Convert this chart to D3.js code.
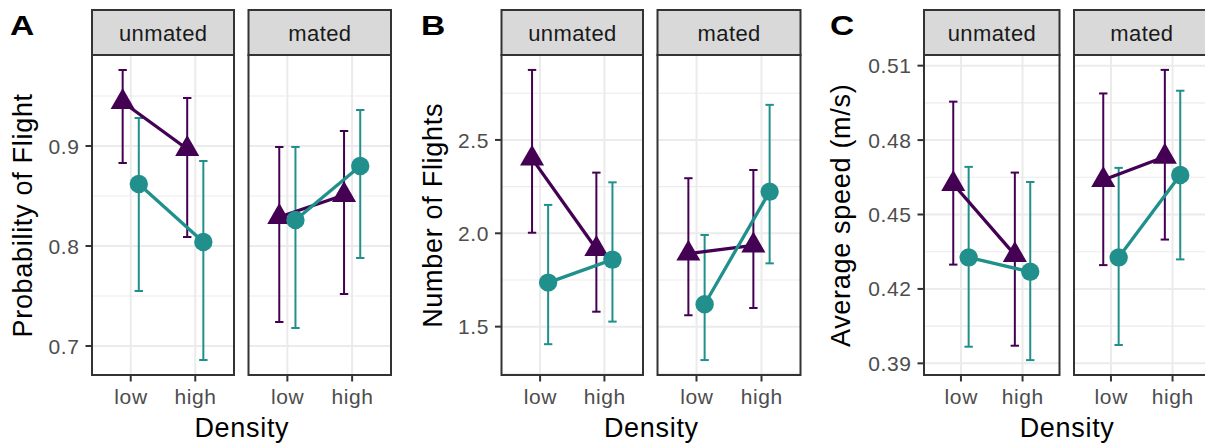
<!DOCTYPE html>
<html>
<head>
<meta charset="utf-8">
<script src="https://cdn.jsdelivr.net/npm/d3@7"></script>
<style>
  html, body { margin: 0; padding: 0; background: #fff; }
  svg { display: block; font-family: "Liberation Sans", Arial, Helvetica, sans-serif; }
</style>
</head>
<body>
<svg id="chart" width="1205" height="446"></svg>
<script>
// ---------------- DATA ----------------
const density = ["low", "high"];
const matingStatus = ["unmated", "mated"];
const groups = ["triangle", "circle"];
// order of values: unmated-low, unmated-high, mated-low, mated-high

// A: Probability of Flight
const flightProbMeanTri  = [0.944, 0.897, 0.829, 0.851];
const flightProbLowerTri = [0.883, 0.809, 0.724, 0.752];
const flightProbUpperTri = [0.976, 0.948, 0.899, 0.915];
const flightProbMeanCirc  = [0.862, 0.804, 0.826, 0.880];
const flightProbLowerCirc = [0.755, 0.686, 0.718, 0.788];
const flightProbUpperCirc = [0.928, 0.885, 0.899, 0.936];
const flightProbTicks = [0.7, 0.8, 0.9];
const flightProbMinor = [0.75, 0.85, 0.95];
const flightProbDomain = [0.671, 0.991];

// B: Number of Flights
const numFlightsMeanTri  = [2.400, 1.916, 1.891, 1.935];
const numFlightsLowerTri = [2.003, 1.580, 1.561, 1.600];
const numFlightsUpperTri = [2.875, 2.325, 2.295, 2.339];
const numFlightsMeanCirc  = [1.736, 1.859, 1.620, 2.223];
const numFlightsLowerCirc = [1.406, 1.527, 1.321, 1.839];
const numFlightsUpperCirc = [2.152, 2.273, 1.991, 2.688];
const numFlightsTicks = [1.5, 2.0, 2.5];
const numFlightsMinor = [1.25, 1.75, 2.25, 2.75];
const numFlightsDomain = [1.241, 2.955];

// C: Average speed (m/s)
const speedMeanTri  = [0.4623, 0.4337, 0.4639, 0.4733];
const speedLowerTri = [0.4298, 0.3971, 0.4296, 0.4399];
const speedUpperTri = [0.4955, 0.4669, 0.4988, 0.5083];
const speedMeanCirc  = [0.4327, 0.4269, 0.4327, 0.4659];
const speedLowerCirc = [0.3967, 0.3913, 0.3974, 0.4319];
const speedUpperCirc = [0.4692, 0.4631, 0.4688, 0.4999];
const speedTicks = [0.39, 0.42, 0.45, 0.48, 0.51];
const speedMinor = [0.405, 0.435, 0.465, 0.495];
const speedDomain = [0.3853, 0.5143];

const panelLetters = ["A", "B", "C"];
const yTitles = ["Probability of Flight", "Number of Flights", "Average speed (m/s)"];
const xTitle = "Density";

// ---------------- BUILD ----------------
function rows(meanT, lowT, upT, meanC, lowC, upC) {
  const out = [];
  matingStatus.forEach((m, mi) => density.forEach((d, di) => {
    const k = mi * 2 + di;
    out.push({mating: m, density: d, group: "triangle", mean: meanT[k], lo: lowT[k], hi: upT[k]});
    out.push({mating: m, density: d, group: "circle", mean: meanC[k], lo: lowC[k], hi: upC[k]});
  }));
  return out;
}

const charts = [
  { letter: panelLetters[0], title: yTitles[0], fmt: d3.format(".1f"),
    data: rows(flightProbMeanTri, flightProbLowerTri, flightProbUpperTri, flightProbMeanCirc, flightProbLowerCirc, flightProbUpperCirc),
    ticks: flightProbTicks, minor: flightProbMinor, domain: flightProbDomain,
    panels: [[92, 234], [248.5, 391]], letterX: 10, titleX: 31.5 },
  { letter: panelLetters[1], title: yTitles[1], fmt: d3.format(".1f"),
    data: rows(numFlightsMeanTri, numFlightsLowerTri, numFlightsUpperTri, numFlightsMeanCirc, numFlightsLowerCirc, numFlightsUpperCirc),
    ticks: numFlightsTicks, minor: numFlightsMinor, domain: numFlightsDomain,
    panels: [[501.5, 643], [657.5, 800.5]], letterX: 421, titleX: 441.5 },
  { letter: panelLetters[2], title: yTitles[2], fmt: d3.format(".2f"),
    data: rows(speedMeanTri, speedLowerTri, speedUpperTri, speedMeanCirc, speedLowerCirc, speedUpperCirc),
    ticks: speedTicks, minor: speedMinor, domain: speedDomain,
    panels: [[924, 1059.5], [1074, 1209.5]], letterX: 830, titleX: 849.5 }
];

const colors = { triangle: "#440154", circle: "#21908C" };
const stripTop = 10, panelTop = 55, panelBottom = 375;
const dark = "#333333", grid = "#EBEBEB", tickText = "#4D4D4D";
const tickFont = 21, tickLS = 0.6;
const titleFont = 27, titleLS = 0.7;
const stripFont = 22, stripLS = 0.4;

const svg = d3.select("#chart");

charts.forEach(ch => {
  const g = svg.append("g");
  const y = d3.scaleLinear().domain(ch.domain).range([panelBottom, panelTop]);

  ch.panels.forEach((px, pi) => {
    const mating = matingStatus[pi];
    // discrete scale with 0.6 expansion on each side
    const x = d3.scalePoint().domain(density).range([px[0], px[1]]).padding(0.6);
    const step = x.step();
    const xs = d => x(d);
    const dodge = { triangle: -0.125 * step, circle: 0.125 * step };

    const p = g.append("g");
    p.append("rect").attr("x", px[0]).attr("y", panelTop).attr("width", px[1] - px[0]).attr("height", panelBottom - panelTop).attr("fill", "#fff");
    p.selectAll(".minor").data(ch.minor).join("line")
      .attr("x1", px[0]).attr("x2", px[1]).attr("y1", d => y(d)).attr("y2", d => y(d))
      .attr("stroke", grid).attr("stroke-width", 1.1);
    p.selectAll(".majory").data(ch.ticks).join("line")
      .attr("x1", px[0]).attr("x2", px[1]).attr("y1", d => y(d)).attr("y2", d => y(d))
      .attr("stroke", grid).attr("stroke-width", 2);
    p.selectAll(".majorx").data(density).join("line")
      .attr("x1", d => xs(d)).attr("x2", d => xs(d)).attr("y1", panelTop).attr("y2", panelBottom)
      .attr("stroke", grid).attr("stroke-width", 2);

    const pd = ch.data.filter(r => r.mating === mating);
    const cx = r => xs(r.density) + dodge[r.group];

    const capW = 4.2;
    groups.forEach(gr => {
      const gd = pd.filter(r => r.group === gr);
      const eb = p.append("g").attr("stroke", colors[gr]).attr("stroke-width", 2).attr("fill", "none");
      eb.selectAll("line.v").data(gd).join("line")
        .attr("x1", cx).attr("x2", cx).attr("y1", r => y(r.lo)).attr("y2", r => y(r.hi));
      eb.selectAll("line.t").data(gd).join("line")
        .attr("x1", r => cx(r) - capW).attr("x2", r => cx(r) + capW).attr("y1", r => y(r.hi)).attr("y2", r => y(r.hi));
      eb.selectAll("line.b").data(gd).join("line")
        .attr("x1", r => cx(r) - capW).attr("x2", r => cx(r) + capW).attr("y1", r => y(r.lo)).attr("y2", r => y(r.lo));
    });
    groups.forEach(gr => {
      const gd = pd.filter(r => r.group === gr);
      p.append("path").datum(gd)
        .attr("d", d3.line().x(cx).y(r => y(r.mean)))
        .attr("fill", "none").attr("stroke", colors[gr]).attr("stroke-width", 3.3);
    });
    groups.forEach(gr => {
      const gd = pd.filter(r => r.group === gr);
      if (gr === "triangle") {
        const R = 13.9;
        p.append("g").selectAll("path").data(gd).join("path")
          .attr("d", r => {
            const X = cx(r), Y = y(r.mean);
            return `M${X},${Y - R}L${X + R * Math.sqrt(3) / 2},${Y + R / 2}L${X - R * Math.sqrt(3) / 2},${Y + R / 2}Z`;
          })
          .attr("fill", colors[gr]);
      } else {
        p.append("g").selectAll("circle").data(gd).join("circle")
          .attr("cx", cx).attr("cy", r => y(r.mean)).attr("r", 9.2)
          .attr("fill", colors[gr]);
      }
    });
    p.append("rect").attr("x", px[0]).attr("y", panelTop).attr("width", px[1] - px[0]).attr("height", panelBottom - panelTop)
      .attr("fill", "none").attr("stroke", dark).attr("stroke-width", 2);
    p.append("rect").attr("x", px[0]).attr("y", stripTop).attr("width", px[1] - px[0]).attr("height", panelTop - stripTop)
      .attr("fill", "#D9D9D9").attr("stroke", dark).attr("stroke-width", 2);
    p.append("text").attr("x", (px[0] + px[1]) / 2 + stripLS / 2).attr("y", 41).attr("text-anchor", "middle")
      .attr("font-size", stripFont).attr("letter-spacing", stripLS).attr("fill", "#1A1A1A").text(mating);

    const xa = p.append("g");
    xa.selectAll("line").data(density).join("line")
      .attr("x1", d => xs(d)).attr("x2", d => xs(d)).attr("y1", panelBottom).attr("y2", panelBottom + 6.5)
      .attr("stroke", dark).attr("stroke-width", 2);
    xa.selectAll("text").data(density).join("text")
      .attr("x", d => xs(d) + tickLS / 2).attr("y", 404).attr("text-anchor", "middle")
      .attr("font-size", tickFont).attr("letter-spacing", tickLS).attr("fill", tickText).text(d => d);

    if (pi === 0) {
      const ya = p.append("g");
      ya.selectAll("line").data(ch.ticks).join("line")
        .attr("x1", px[0] - 6.5).attr("x2", px[0]).attr("y1", d => y(d)).attr("y2", d => y(d))
        .attr("stroke", dark).attr("stroke-width", 2);
      ya.selectAll("text").data(ch.ticks).join("text")
        .attr("x", px[0] - 13 + tickLS).attr("y", d => y(d)).attr("dy", "0.36em").attr("text-anchor", "end")
        .attr("font-size", tickFont).attr("letter-spacing", tickLS).attr("fill", tickText).text(d => ch.fmt(d));
    }
  });

  const xc = (ch.panels[0][0] + ch.panels[1][1]) / 2;
  g.append("text").attr("x", xc + titleLS / 2).attr("y", 437).attr("text-anchor", "middle")
    .attr("font-size", titleFont).attr("letter-spacing", titleLS).attr("fill", "#000").text(xTitle);
  g.append("text").attr("transform", `translate(${ch.titleX},${(panelTop + panelBottom) / 2 + titleLS / 2}) rotate(-90)`)
    .attr("text-anchor", "middle").attr("font-size", titleFont).attr("letter-spacing", titleLS).attr("fill", "#000").text(ch.title);
  g.append("text").attr("transform", `translate(${ch.letterX},35) scale(1.2,1)`)
    .attr("font-size", 28).attr("font-weight", "bold").attr("fill", "#000").text(ch.letter);
});
</script>
</body>
</html>
